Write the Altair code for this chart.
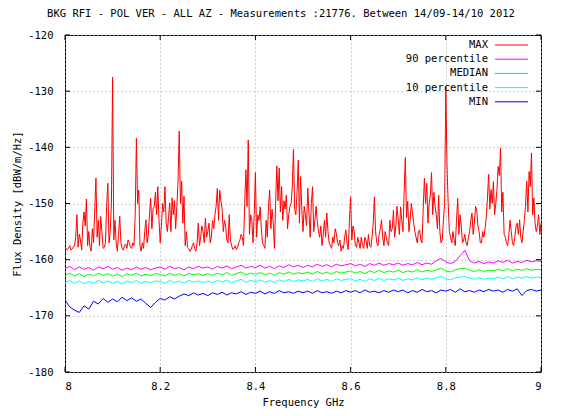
import altair as alt
import pandas as pd
import numpy as np

TITLE = "BKG RFI - POL VER - ALL AZ - Measurements :21776. Between 14/09-14/10 2012"
X_TITLE = "Frequency GHz"
Y_TITLE = "Flux Density [dBW/m/Hz]"
SERIES = ["MAX", "90 percentile", "MEDIAN", "10 percentile", "MIN"]
COLORS = ["#ff0000", "#ff00ff", "#00ff00", "#00ffff", "#0000ff"]
X_TICKS = [8, 8.2, 8.4, 8.6, 8.8, 9]
Y_TICKS = [-180, -170, -160, -150, -140, -130, -120]

FREQ_START = 8.0
MAX_STEP = 0.005
MAX_MID_START = 8.0025
PCT_STEP = 0.01

# MAX readings at 8.000, 8.005, ... 9.000
MAX_VALUES = [
    -157.8, -158.2, -157.5, -158.1, -157.6, -152.0, -155.5, -158.3, -151.5, -149.2,
    -155.0, -158.5, -157.0, -145.5, -153.0, -152.3, -158.0, -157.0, -146.4, -155.0,
    -127.5, -153.0, -158.5, -152.3, -158.0, -157.5, -158.0, -157.0, -158.0, -157.5,
    -138.4, -147.6, -158.5, -158.0, -152.9, -155.5, -149.1, -151.0, -148.0, -147.0,
    -157.0, -150.0, -147.0, -155.0, -149.9, -149.0, -149.5, -150.5, -137.1, -146.0,
    -148.7, -155.0, -158.0, -158.2, -157.0, -158.5, -153.5, -156.0, -155.0, -152.6,
    -155.0, -157.0, -153.0, -152.0, -147.3, -147.6, -151.0, -153.0, -156.5, -152.0,
    -157.5, -158.0, -158.2, -157.0, -155.5, -157.5, -144.0, -138.7, -152.0, -157.0,
    -144.5, -152.0, -150.6, -157.0, -158.0, -156.0, -147.6, -151.0, -158.0, -143.3,
    -143.7, -147.0, -149.5, -148.5, -152.0, -150.0, -140.3, -152.0, -142.3, -145.2,
    -155.0, -152.0, -147.3, -156.0, -147.0, -153.0, -153.2, -156.0, -157.5, -153.0,
    -151.7, -157.0, -158.0, -157.0, -155.3, -157.5, -158.5, -158.0, -154.7, -158.2,
    -148.8, -154.0, -157.5, -156.0, -158.0, -157.5, -156.0, -158.0, -157.5, -156.0,
    -148.8, -157.0, -155.5, -152.9, -157.5, -156.0, -157.5, -155.0, -151.2, -154.0,
    -152.9, -150.6, -155.0, -141.8, -149.6, -153.0, -151.7, -155.0, -157.0, -154.7,
    -157.0, -145.5, -146.4, -150.0, -144.5, -148.0, -152.0, -148.5, -157.0, -153.0,
    -129.2, -150.0, -156.0, -155.0, -157.5, -149.1, -152.0, -157.0, -155.5, -157.5,
    -155.0, -151.7, -153.5, -151.2, -155.0, -157.0, -156.0, -152.5, -144.8, -147.5,
    -146.1, -150.0, -143.4, -140.1, -148.0, -156.0, -157.5, -153.0, -157.0, -156.0,
    -153.5, -152.9, -157.0, -153.0, -146.0, -144.3, -141.0, -149.0, -155.0, -152.0,
    -153.5,
]

# MAX readings at 8.0025, 8.0075, ... 8.9975
MAX_MID_VALUES = [
    -158.0, -157.9, -158.3, -157.7, -156.0, -157.8, -156.5, -153.5, -154.0, -157.5,
    -157.8, -154.5, -151.0, -156.0, -157.5, -155.0, -157.8, -150.5, -157.0, -150.0,
    -156.5, -157.0, -155.5, -157.0, -158.3, -157.2, -156.5, -157.8, -157.0, -152.0,
    -150.0, -157.5, -157.0, -155.0, -157.0, -152.0, -154.5, -150.5, -152.0, -153.0,
    -154.0, -151.5, -153.5, -152.5, -155.0, -152.0, -154.5, -146.0, -150.0, -153.5,
    -157.5, -157.8, -158.5, -157.5, -158.0, -157.0, -157.5, -154.0, -157.0, -156.0,
    -153.5, -156.0, -154.5, -150.5, -153.0, -149.5, -155.0, -154.0, -157.0, -156.5,
    -158.2, -157.5, -157.8, -156.5, -156.0, -150.0, -150.5, -155.5, -153.0, -152.0,
    -156.0, -153.0, -154.5, -157.5, -153.0, -150.5, -154.5, -153.5, -150.0, -149.5,
    -151.5, -153.0, -151.0, -154.5, -150.5, -147.0, -151.0, -148.0, -153.5, -151.0,
    -150.5, -154.0, -151.5, -150.0, -155.0, -150.5, -155.0, -154.0, -155.5, -156.0,
    -155.0, -157.5, -156.0, -154.5, -157.0, -156.5, -157.5, -156.0, -157.0, -153.0,
    -156.5, -155.0, -157.8, -157.0, -156.0, -158.0, -156.5, -155.5, -157.8, -153.5,
    -155.0, -157.5, -154.5, -156.0, -155.0, -157.0, -153.0, -154.5, -156.0, -150.5,
    -155.5, -153.0, -148.0, -152.5, -155.0, -150.0, -153.5, -156.0, -155.0, -156.5,
    -151.0, -150.0, -153.5, -148.5, -152.0, -150.5, -154.5, -155.0, -156.5, -150.0,
    -143.0, -155.0, -157.0, -156.5, -153.0, -155.5, -154.0, -156.5, -157.0, -156.0,
    -153.0, -155.5, -150.5, -154.0, -157.0, -155.0, -154.5, -149.0, -151.0, -150.0,
    -152.0, -147.5, -145.0, -151.5, -155.5, -157.0, -155.5, -155.0, -157.5, -154.0,
    -155.5, -156.0, -155.0, -150.5, -151.5, -147.0, -152.0, -153.5, -154.0, -155.5,
]

P90_VALUES = [
    -161.6, -161.2, -161.8, -161.3, -161.7, -161.4, -161.9, -161.3, -161.6, -161.2,
    -161.7, -161.4, -161.9, -161.5, -161.8, -161.3, -161.7, -161.4, -161.8, -161.5,
    -161.3, -161.7, -161.2, -161.6, -161.4, -161.8, -161.3, -161.6, -161.2, -161.5,
    -161.3, -161.7, -161.2, -161.5, -161.1, -161.6, -161.3, -161.0, -161.5, -161.2,
    -161.4, -161.0, -161.5, -161.2, -161.6, -161.1, -161.4, -160.9, -161.3, -161.0,
    -161.4, -161.0, -161.3, -160.8, -161.2, -160.9, -161.3, -160.8, -161.1, -160.9,
    -160.7, -161.1, -160.8, -161.2, -160.7, -161.0, -160.6, -161.0, -160.7, -160.9,
    -160.6, -161.0, -160.7, -160.9, -160.5, -160.9, -160.6, -160.8, -160.2, -159.8,
    -160.4, -160.7, -160.3, -159.3, -158.3, -160.2, -160.6, -160.3, -160.7, -160.4,
    -160.6, -160.2, -160.5, -160.1, -160.6, -160.3, -160.5, -160.1, -160.4, -160.2,
    -160.3,
]

MEDIAN_VALUES = [
    -162.8, -162.4, -162.9, -162.5, -163.0, -162.6, -162.9, -162.4, -162.8, -162.5,
    -162.9, -162.6, -163.0, -162.5, -162.8, -162.4, -162.9, -162.6, -162.8, -162.5,
    -162.6, -162.9, -162.4, -162.8, -162.5, -162.9, -162.4, -162.7, -162.5, -162.8,
    -162.5, -162.8, -162.4, -162.7, -162.3, -162.8, -162.5, -162.2, -162.7, -162.4,
    -162.6, -162.3, -162.7, -162.4, -162.8, -162.3, -162.6, -162.2, -162.6, -162.3,
    -162.5, -162.2, -162.6, -162.1, -162.5, -162.2, -162.6, -162.1, -162.4, -162.2,
    -162.0, -162.4, -162.1, -162.5, -162.0, -162.3, -161.9, -162.3, -162.0, -162.2,
    -161.9, -162.3, -162.0, -162.2, -161.8, -162.2, -161.9, -162.1, -161.8, -161.5,
    -162.0, -162.2, -161.8, -161.6, -161.5, -161.9, -162.1, -161.8, -162.1, -161.9,
    -162.0, -161.7, -162.0, -161.6, -162.0, -161.7, -161.9, -161.6, -161.9, -161.7,
    -161.8,
]

P10_VALUES = [
    -164.1, -163.7, -164.2, -163.8, -164.3, -163.9, -164.2, -163.7, -164.1, -163.8,
    -164.2, -163.9, -164.3, -163.8, -164.1, -163.7, -164.2, -163.9, -164.1, -163.8,
    -163.9, -164.2, -163.7, -164.1, -163.8, -164.2, -163.7, -164.0, -163.8, -164.1,
    -163.8, -164.1, -163.7, -164.0, -163.6, -164.1, -163.8, -163.5, -164.0, -163.7,
    -163.9, -163.6, -164.0, -163.7, -164.1, -163.6, -163.9, -163.5, -163.9, -163.6,
    -163.8, -163.5, -163.9, -163.4, -163.8, -163.5, -163.9, -163.4, -163.7, -163.5,
    -163.4, -163.8, -163.5, -163.9, -163.4, -163.7, -163.3, -163.7, -163.4, -163.6,
    -163.3, -163.7, -163.4, -163.6, -163.2, -163.6, -163.3, -163.5, -163.2, -163.0,
    -163.4, -163.6, -163.2, -163.1, -163.0, -163.3, -163.5, -163.2, -163.5, -163.3,
    -163.4, -163.1, -163.4, -163.0, -163.4, -163.1, -163.3, -163.0, -163.3, -163.1,
    -163.2,
]

MIN_VALUES = [
    -167.2, -168.4, -169.0, -169.4, -168.2, -168.8, -167.4, -167.9, -166.9, -167.6,
    -167.0, -167.5, -166.7, -167.3, -166.8, -167.4, -167.0, -167.8, -168.5, -167.6,
    -166.9, -167.2, -166.6, -167.0, -166.5, -166.1, -166.4, -165.9, -166.3, -166.0,
    -166.4, -165.9, -166.2, -165.8, -166.3, -165.9, -166.1, -165.7, -166.2, -165.8,
    -166.0, -165.6, -166.1, -165.7, -166.0, -165.5, -165.9, -165.7, -166.0, -165.6,
    -165.9, -165.6, -166.0, -165.5, -165.9, -165.7, -166.0, -165.6, -165.9, -165.5,
    -165.8, -165.5, -165.9, -165.4, -165.8, -165.6, -165.9, -165.5, -165.8, -165.4,
    -165.7, -165.4, -165.9, -165.5, -165.8, -165.3, -165.7, -165.5, -165.9, -165.4,
    -165.6, -165.3, -165.8, -165.2, -165.7, -165.5, -165.8, -165.4, -165.7, -165.3,
    -165.6, -165.4, -165.8, -165.3, -165.6, -165.2, -166.4, -165.5, -165.3, -165.6,
    -165.4,
]

FONT = "DejaVu Sans Mono"
FS = 10.5
W, H = 476, 337


def series_frame(name, values, start, step):
    freq = np.round(start + step * np.arange(len(values)), 4)
    return pd.DataFrame({"freq": freq, "value": values, "series": name})


max_df = pd.concat([
    series_frame("MAX", MAX_VALUES, FREQ_START, MAX_STEP),
    series_frame("MAX", MAX_MID_VALUES, MAX_MID_START, MAX_STEP),
]).sort_values("freq")

df = pd.concat([
    max_df,
    series_frame("90 percentile", P90_VALUES, FREQ_START, PCT_STEP),
    series_frame("MEDIAN", MEDIAN_VALUES, FREQ_START, PCT_STEP),
    series_frame("10 percentile", P10_VALUES, FREQ_START, PCT_STEP),
    series_frame("MIN", MIN_VALUES, FREQ_START, PCT_STEP),
], ignore_index=True)

xscale = alt.Scale(domain=[8, 9], nice=False, zero=False)
yscale = alt.Scale(domain=[-180, -120], nice=False, zero=False)

lines = alt.Chart(df).mark_line(strokeWidth=1, clip=True).encode(
    x=alt.X("freq:Q", scale=xscale, axis=alt.Axis(
        values=X_TICKS, format="~g", title=X_TITLE, grid=True,
        labelPadding=9, titleX=W / 2, titleY=35, titleBaseline="bottom",
        titleAlign="center")),
    y=alt.Y("value:Q", scale=yscale, axis=alt.Axis(
        values=Y_TICKS, labelExpr="'' + datum.value", title=Y_TITLE, grid=True,
        labelPadding=12, titleX=-48, titleY=H / 2, titleAngle=270,
        titleBaseline="middle", titleAlign="center")),
    color=alt.Color("series:N", scale=alt.Scale(domain=SERIES, range=COLORS), legend=None),
    detail="series:N",
)

ytick_df = pd.DataFrame({"value": Y_TICKS})
xtick_df = pd.DataFrame({"freq": X_TICKS})
TL = 5
tick_layers = [
    alt.Chart(ytick_df).mark_rule(color="black", strokeWidth=1).encode(
        y=alt.Y("value:Q", scale=yscale), x=alt.value(0), x2=alt.value(TL)),
    alt.Chart(ytick_df).mark_rule(color="black", strokeWidth=1).encode(
        y=alt.Y("value:Q", scale=yscale), x=alt.value(W - TL), x2=alt.value(W)),
    alt.Chart(xtick_df).mark_rule(color="black", strokeWidth=1).encode(
        x=alt.X("freq:Q", scale=xscale), y=alt.value(H - TL), y2=alt.value(H)),
    alt.Chart(xtick_df).mark_rule(color="black", strokeWidth=1).encode(
        x=alt.X("freq:Q", scale=xscale), y=alt.value(0), y2=alt.value(TL)),
]

LEG_TEXT_X = 423
LEG_LINE_X1, LEG_LINE_X2 = 430, 463
LEG_TOP, LEG_STEP = 10, 14.2
legend_layers = []
for i, (name, col) in enumerate(zip(SERIES, COLORS)):
    ly = LEG_TOP + i * LEG_STEP
    ldf = pd.DataFrame({"series": [name]})
    legend_layers.append(
        alt.Chart(ldf).mark_text(align="right", baseline="middle", font=FONT,
                                 fontSize=FS, color="black").encode(
            x=alt.value(LEG_TEXT_X), y=alt.value(ly), text="series:N"))
    legend_layers.append(
        alt.Chart(ldf).mark_rule(color=col, strokeWidth=1).encode(
            x=alt.value(LEG_LINE_X1), x2=alt.value(LEG_LINE_X2), y=alt.value(ly)))

title_layer = alt.Chart(pd.DataFrame({"t": [TITLE]})).mark_text(
    align="center", baseline="top", font=FONT, fontSize=FS, color="black"
).encode(x=alt.value(W / 2 - 22), y=alt.value(-26), text="t:N")

chart = alt.layer(lines, *tick_layers, *legend_layers, title_layer).properties(
    width=W, height=H,
    autosize=alt.AutoSizeParams(type="none"),
    padding={"left": 57, "top": 27, "right": 14, "bottom": 36},
).configure_view(stroke="black", strokeWidth=1).configure_axis(
    domain=False, ticks=False, tickSize=0,
    labelFont=FONT, labelFontSize=FS, labelColor="black",
    titleFont=FONT, titleFontSize=FS, titleFontWeight="normal", titleColor="black",
    gridColor="#a0a0a0", gridDash=[1, 3], gridWidth=1,
)

chart.save("out.html", embed_options={"renderer": "svg", "actions": False})
